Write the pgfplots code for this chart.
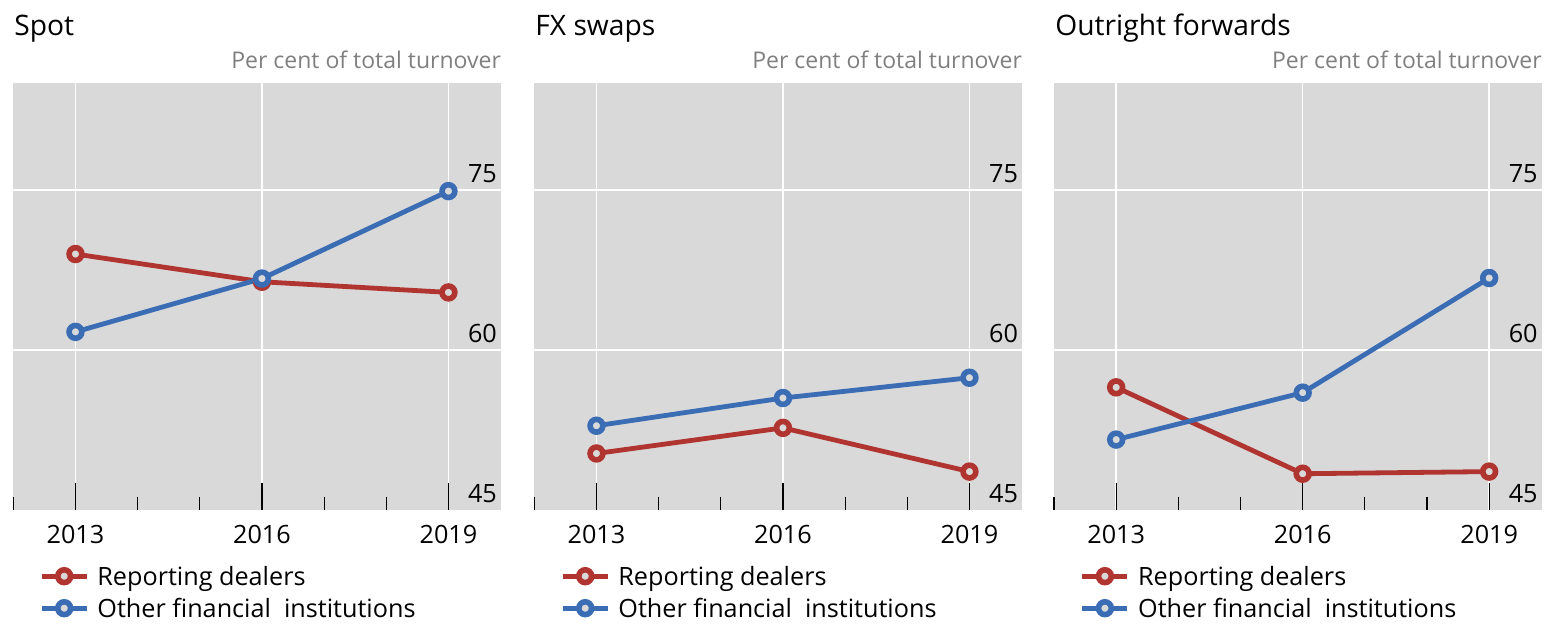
\documentclass[border=0pt]{standalone}
\usepackage{pgfplots}
\pgfplotsset{compat=1.18}
\usepackage{fontspec}
\setmainfont{Open Sans}
\definecolor{bggray}{HTML}{D9D9D9}
\definecolor{rdred}{HTML}{B03430}
\definecolor{ofblue}{HTML}{3A6DB4}
\definecolor{labgray}{HTML}{7F7F7F}

\pgfplotsset{
  panel/.style={
    scale only axis, width=244pt, height=213.3pt, anchor=south west,
    xmin=2012, xmax=2019.85, ymin=45, ymax=85,
    axis background/.style={fill=bggray},
    axis line style={draw=none},
    xtick={2013,2016,2019}, xticklabels={2013,2016,2019},
    minor xtick={2012,2014,2015,2017,2018},
    ytick={60,75}, yticklabels={60,75},
    extra y ticks={45}, extra y tick labels={45},
    extra y tick style={grid=none},
    xmajorgrids, ymajorgrids,
    major grid style={white, line width=0.8pt},
    tick align=inside, xtick pos=left,
    major tick length=13.5pt, minor tick length=6.7pt,
    xtick style={black, line width=0.55pt},
    ytick style={draw=none},
    yticklabel pos=right,
    /pgf/number format/assume math mode=true,
    xticklabel style={anchor=base, yshift=-17pt, font=\fontsize{12.6pt}{15pt}\selectfont},
    yticklabel style={anchor=base east, inner sep=0pt, xshift=-2pt, yshift=3.7pt, font=\fontsize{12.6pt}{15pt}\selectfont},
    legend style={at={(axis description cs:0,0)}, anchor=north west, xshift=13pt, yshift=-28.6pt,
      draw=none, fill=none, inner sep=0pt, outer sep=0pt, row sep=7pt, column sep=4.15pt,
      font=\fontsize{12.6pt}{15pt}\selectfont,
      nodes={inner sep=0pt, text height=9pt, text depth=0pt}},
    legend cell align=left,
    legend image code/.code={\draw[mark repeat=2,mark phase=2,##1] plot coordinates {(0pt,0pt) (11.25pt,0pt) (22.5pt,0pt)};},
  },
  rd/.style={color=rdred, line width=2.4pt, mark=*, mark size=3.2pt, mark options={fill=bggray, line width=2.8pt}},
  of/.style={color=ofblue, line width=2.4pt, mark=*, mark size=3.2pt, mark options={fill=bggray, line width=2.8pt}},
}

\begin{document}
\begin{tikzpicture}
\path[use as bounding box] (0,0) rectangle (775pt,312pt);

% Spot
\begin{axis}[panel, at={(6.65pt,57pt)}]
\addplot[rd] coordinates {(2013,69.0) (2016,66.4) (2019,65.4)};
\addlegendentry{Reporting dealers}
\addplot[of] coordinates {(2013,61.7) (2016,66.7) (2019,74.9)};
\addlegendentry{Other financial\ \ institutions}
\end{axis}

% FX swaps
\begin{axis}[panel, at={(267.15pt,57pt)}]
\addplot[rd] coordinates {(2013,50.3) (2016,52.7) (2019,48.6)};
\addlegendentry{Reporting dealers}
\addplot[of] coordinates {(2013,52.9) (2016,55.5) (2019,57.4)};
\addlegendentry{Other financial\ \ institutions}
\end{axis}

% Outright forwards
\begin{axis}[panel, at={(527pt,57pt)}]
\addplot[rd] coordinates {(2013,56.5) (2016,48.4) (2019,48.6)};
\addlegendentry{Reporting dealers}
\addplot[of] coordinates {(2013,51.6) (2016,56.0) (2019,66.75)};
\addlegendentry{Other financial\ \ institutions}
\end{axis}

\foreach \x/\t in {7/Spot, 267.5/FX swaps, 527.5/Outright forwards}{
  \node[anchor=base west, inner sep=0pt, font=\fontsize{14.1pt}{17pt}\selectfont] at (\x pt,294pt) {\t};
}
\foreach \x in {250.65, 511.15, 771}{
  \node[anchor=base east, inner sep=0pt, text=labgray, font=\fontsize{11.5pt}{14pt}\selectfont] at (\x pt,277.85pt) {Per cent of total turnover};
}
\end{tikzpicture}
\end{document}
